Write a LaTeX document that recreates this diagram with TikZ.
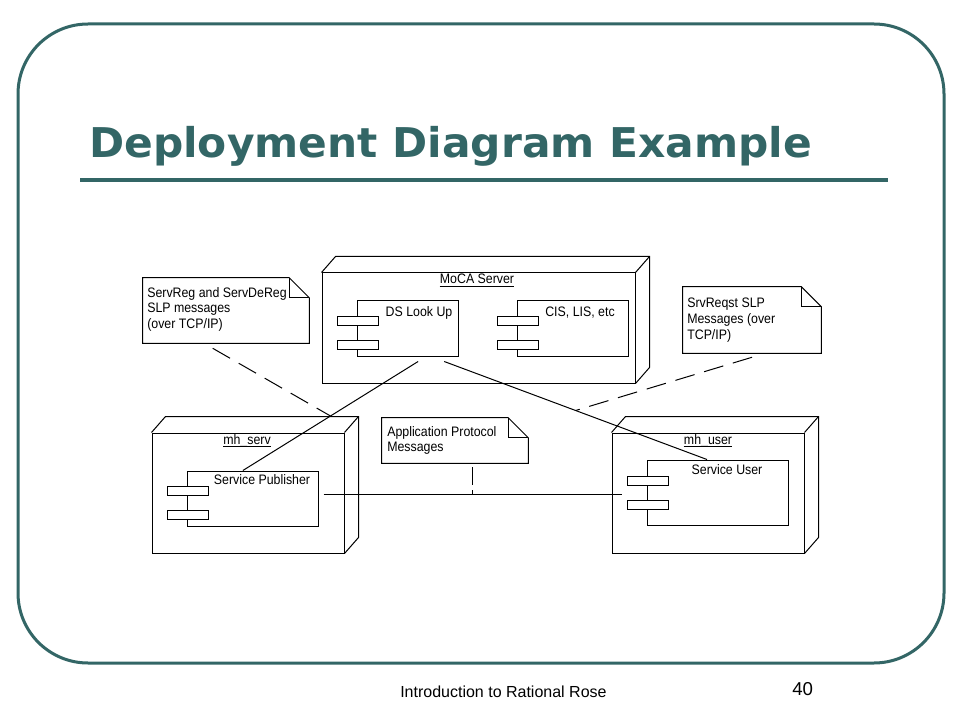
\documentclass[tikz,border=0pt]{standalone}
\usepackage{fontspec}
\setmainfont{Liberation Sans}
\newfontfamily\titlefont[FakeStretch=1.033]{DejaVu Sans}
\newfontfamily\umlfont[FakeStretch=0.9]{Liberation Sans}
\usetikzlibrary{calc,fit}
\definecolor{slideteal}{RGB}{51,102,102}
\begin{document}
\begin{tikzpicture}[x=0.75pt,y=-0.75pt,
  every node/.style={inner sep=0pt},
  umlline/.style={line width=0.75pt, draw=black},
  boxshape/.style={draw, umlline, inner sep=0pt},
  comptab/.style={draw, umlline, fill=white, minimum width=30.75pt, minimum height=7pt, anchor=north west, inner sep=0pt},
  notebox/.style={inner sep=0pt},
  uml/.style={font=\umlfont\fontsize{10.3pt}{11.8pt}\selectfont},
  notetext/.style={uml, align=left, anchor=north west},
  lbl/.style={uml, anchor=base},
  dashedlink/.style={umlline, dash pattern=on 15pt off 7.5pt},
  frameline/.style={draw=slideteal, line width=2.25pt, rounded corners=52.5pt}]
\useasboundingbox (0,0) rectangle (960,720);
\fill[white] (0,0) rectangle (960,720);

% slide frame
\draw[frameline] (18,24) rectangle (944,663);

% title
\node[anchor=base west, text=slideteal, font=\titlefont\bfseries\fontsize{30.75pt}{36pt}\selectfont] (title) at (89,158) {Deployment Diagram Example};
\coordinate (rulel) at (80,180);
\coordinate (ruler) at (888,180);
\draw[slideteal, line width=3pt] (rulel) -- (ruler);

% footer
\node[anchor=base west, font=\fontsize{12pt}{14pt}\selectfont] (footer) at (400,697) {Introduction to Rational Rose};
\node[anchor=base west, font=\fontsize{14pt}{16pt}\selectfont] (pagenum) at (792,695) {40};

% ---------- 3D nodes ----------
\node[boxshape, fit={(322,273) (635,383)}] (moca) {};
\node[boxshape, fit={(152,433) (344,553)}] (mhserv) {};
\node[boxshape, fit={(612,433) (804,553)}] (mhuser) {};
\foreach \n in {moca,mhserv,mhuser}{
  \draw[umlline] (\n.north west) -- ++(14,-16) -- ($(\n.north east)+(14,-16)$)
     -- ($(\n.south east)+(14,-16)$) -- (\n.south east);
  \draw[umlline] (\n.north east) -- ++(14,-16);
}

% node labels
\node[lbl] (mocal) at (477,284) {MoCA Server};
\node[lbl] (mhservl) at (247,444) {mh\_serv};
\node[lbl] (mhuserl) at (708,444) {mh\_user};
\foreach \l in {mocal,mhservl,mhuserl}{
  \draw[umlline] ($(\l.base west)+(0,2.5)$) -- ($(\l.base east)+(0,2.5)$);
}

% ---------- components ----------
\node[boxshape, fit={(357,301) (458,356)}] (ds) {};
\node[boxshape, fit={(517,301) (628,356)}] (cis) {};
\node[boxshape, fit={(187,471) (318,526)}] (pub) {};
\node[boxshape, fit={(647,460) (788,525)}] (usr) {};
\node[comptab] (dsa) at ($(ds.north west)+(-20,15)$) {};
\node[comptab] (dsb) at ($(ds.north west)+(-20,39)$) {};
\node[comptab] (cisa) at ($(cis.north west)+(-20,15)$) {};
\node[comptab] (cisb) at ($(cis.north west)+(-20,39)$) {};
\node[comptab] (puba) at ($(pub.north west)+(-20,15)$) {};
\node[comptab] (pubb) at ($(pub.north west)+(-20,39)$) {};
\node[comptab] (usra) at ($(usr.north west)+(-20,16)$) {};
\node[comptab] (usrb) at ($(usr.north west)+(-20,40)$) {};

\node[lbl] (dsl) at (419,316) {DS Look Up};
\node[lbl] (cisl) at (580,316) {CIS, LIS, etc};
\node[lbl] (publ) at (262,484) {Service Publisher};
\node[lbl] (usrl) at (727,474) {Service User};

% ---------- notes ----------
\node[notebox, fit={(143,278) (309,343)}] (n1) {};
\node[notebox, fit={(683,287) (821,353)}] (n2) {};
\node[notebox, fit={(382,418) (528,463)}] (n3) {};
\foreach \n in {n1,n2,n3}{
  \draw[umlline] (\n.north west) -- ($(\n.north east)+(-20,0)$) -- ($(\n.north east)+(0,20)$)
     -- (\n.south east) -- (\n.south west) -- cycle;
  \draw[umlline] ($(\n.north east)+(-20,0)$) -- ($(\n.north east)+(-20,20)$) -- ($(\n.north east)+(0,20)$);
}
\node[notetext] (n1t) at (147,287) {ServReg and ServDeReg\\SLP messages\\(over TCP/IP)};
\node[notetext] (n2t) at (687,298) {SrvReqst SLP\\Messages (over\\TCP/IP)};
\node[notetext] (n3t) at (387,426) {Application Protocol\\Messages};

% ---------- connectors ----------
\draw[umlline] ($(ds.south west)!0.604!(ds.south east)+(0,5)$) -- coordinate[pos=0.5] (m1)
   ($(pub.north west)!0.427!(pub.north east)$);
\draw[umlline] ($(ds.south west)!0.86!(ds.south east)+(0,5)$) -- coordinate[pos=0.5] (m2)
   ($(usr.north west)!0.426!(usr.north east)$);
\coordinate (h1) at ($(pub.east)+(5,-4.5)$);
\coordinate (h2) at ($(h1 -| usr.west)+(-25,0)$);
\draw[umlline] (h1) -- (h2);

\draw[dashedlink] ($(n1.south west)!0.42!(n1.south east)+(0,5)$) -- (m1);
\draw[dashedlink] ($(n2.south)+(0,4)$) -- (m2);
\coordinate (n3foot) at ($(n3.south west)!0.616!(n3.south east)+(0,4)$);
\draw[umlline, dash pattern=on 13.5pt off 3.75pt] (n3foot) -- (n3foot |- h1);
\end{tikzpicture}
\end{document}
